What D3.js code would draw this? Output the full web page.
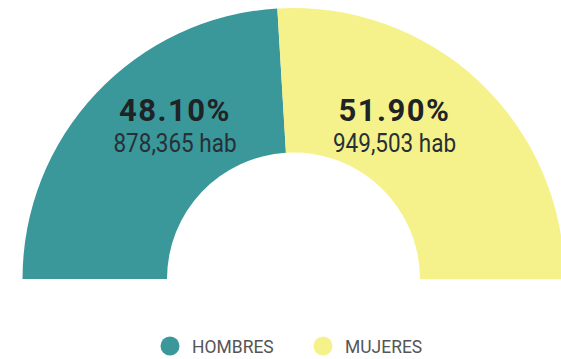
<!DOCTYPE html>
<html>
<head>
<meta charset="utf-8">
<script src="https://cdn.jsdelivr.net/npm/d3@7"></script>
<style>
  body { margin: 0; background: #fff; }
  svg { display: block; font-family: Roboto, "Noto Sans", sans-serif; }
</style>
</head>
<body>
<div id="chart"></div>
<script>
var categories = ["HOMBRES", "MUJERES"];
var percents = [48.10, 51.90];
var habitantes = [878365, 949503];
var colors = ["#3a979a", "#f6f28b"];

var width = 561, height = 359;
var cx = 293.5, cy = 279,
    outerR = 271, innerR = 126.5;

var svg = d3.select("#chart").append("svg")
    .attr("width", width)
    .attr("height", height);

var g = svg.append("g")
    .attr("transform", "translate(" + cx + "," + cy + ")");

var data = categories.map(function (c, i) {
    return { name: c, pct: percents[i], hab: habitantes[i], color: colors[i] };
});

var pie = d3.pie()
    .sort(null)
    .value(function (d) { return d.pct; })
    .startAngle(-Math.PI / 2)
    .endAngle(Math.PI / 2);

var arc = d3.arc().innerRadius(innerR).outerRadius(outerR);

var arcs = pie(data);

g.selectAll("path.slice")
    .data(arcs)
    .enter().append("path")
    .attr("class", "slice")
    .attr("d", arc)
    .attr("fill", function (d) { return d.data.color; });

// labels, centred above each slice
var labelX = [-118.5, 101];
var fmt = d3.format(",");
var labels = g.selectAll("g.label")
    .data(arcs)
    .enter().append("g")
    .attr("class", "label")
    .attr("transform", function (d, i) { return "translate(" + labelX[i] + ",0)"; });

labels.append("text")
    .attr("y", -158)
    .attr("text-anchor", "middle")
    .attr("font-size", 31)
    .attr("font-weight", "bold")
    .attr("letter-spacing", 1.5)
    .attr("fill", "#1e2326")
    .text(function (d) { return d.data.pct.toFixed(2) + "%"; });

// second line is a condensed face in the original
labels.append("text")
    .attr("transform", "translate(0,-127) scale(0.9,1)")
    .attr("text-anchor", "middle")
    .attr("font-size", 25)
    .attr("fill", "#263036")
    .text(function (d) { return fmt(d.data.hab) + " hab"; });

// legend
var legendX = [170, 323];
var legend = svg.selectAll("g.legend")
    .data(data)
    .enter().append("g")
    .attr("class", "legend")
    .attr("transform", function (d, i) { return "translate(" + legendX[i] + ",346)"; });

legend.append("circle")
    .attr("r", 9.5)
    .attr("fill", function (d) { return d.color; });

legend.append("text")
    .attr("transform", "translate(22,7) scale(0.92,1)")
    .attr("font-size", 19)
    .attr("fill", "#555")
    .text(function (d) { return d.name; });
</script>
</body>
</html>
